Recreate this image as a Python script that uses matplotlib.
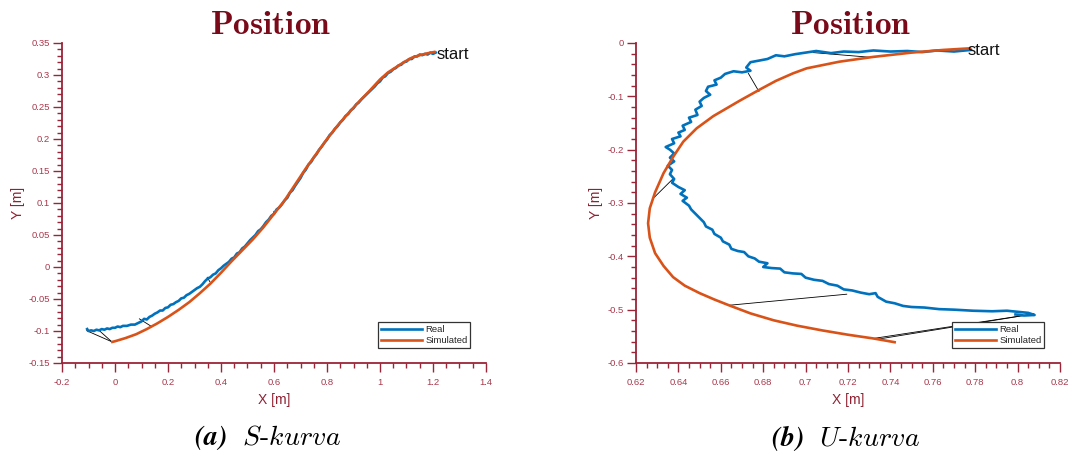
import matplotlib
matplotlib.use("Agg")
import matplotlib.pyplot as plt
from matplotlib.ticker import MultipleLocator

plt.rcParams['mathtext.fontset'] = 'cm'
plt.rcParams['font.family'] = ['Liberation Sans', 'DejaVu Sans']

# ---------------- data: S-kurva ----------------
s_real_x = [-0.105, -0.100, -0.090, -0.080, -0.070, -0.060, -0.050, -0.040, -0.030, -0.020,
            -0.010, 0.000, 0.010, 0.020, 0.030, 0.045, 0.060, 0.075, 0.090, 0.100,
            0.110, 0.120, 0.130, 0.140, 0.150, 0.160, 0.170, 0.180, 0.190, 0.200,
            0.210, 0.220, 0.230, 0.240, 0.250, 0.260, 0.270, 0.280, 0.290, 0.300,
            0.310, 0.320, 0.330, 0.340, 0.350, 0.360, 0.370, 0.380, 0.390, 0.400,
            0.410, 0.420, 0.430, 0.440, 0.450, 0.460, 0.470, 0.480, 0.490, 0.500,
            0.510, 0.520, 0.530, 0.540, 0.550, 0.560, 0.570, 0.580, 0.590, 0.600,
            0.610, 0.620, 0.630, 0.640, 0.650, 0.660, 0.670, 0.680, 0.690, 0.700,
            0.710, 0.720, 0.730, 0.740, 0.750, 0.760, 0.770, 0.780, 0.790, 0.800,
            0.810, 0.820, 0.830, 0.840, 0.850, 0.860, 0.870, 0.880, 0.890, 0.900,
            0.910, 0.920, 0.930, 0.940, 0.950, 0.960, 0.970, 0.980, 0.990, 1.000,
            1.010, 1.020, 1.030, 1.040, 1.050, 1.060, 1.070, 1.080, 1.090, 1.100,
            1.110, 1.120, 1.130, 1.140, 1.150, 1.160, 1.170, 1.180, 1.190, 1.200, 1.210]
s_real_y = [-0.097, -0.100, -0.099, -0.100, -0.098, -0.099, -0.097, -0.098, -0.096, -0.097,
            -0.095, -0.095, -0.093, -0.094, -0.092, -0.092, -0.090, -0.090, -0.087, -0.085,
            -0.081, -0.082, -0.078, -0.076, -0.073, -0.071, -0.068, -0.068, -0.064, -0.063,
            -0.059, -0.058, -0.055, -0.053, -0.049, -0.048, -0.044, -0.042, -0.039, -0.036,
            -0.033, -0.031, -0.027, -0.022, -0.018, -0.016, -0.012, -0.010, -0.005, -0.002,
            0.002, 0.005, 0.008, 0.013, 0.015, 0.021, 0.023, 0.029, 0.032, 0.037,
            0.042, 0.046, 0.050, 0.056, 0.059, 0.064, 0.070, 0.074, 0.080, 0.083,
            0.090, 0.093, 0.098, 0.104, 0.108, 0.116, 0.120, 0.127, 0.133, 0.139,
            0.147, 0.152, 0.160, 0.164, 0.171, 0.176, 0.183, 0.188, 0.194, 0.199,
            0.206, 0.210, 0.216, 0.220, 0.226, 0.230, 0.236, 0.239, 0.245, 0.248,
            0.254, 0.257, 0.262, 0.266, 0.270, 0.274, 0.278, 0.282, 0.287, 0.290,
            0.296, 0.298, 0.303, 0.305, 0.309, 0.311, 0.315, 0.316, 0.320, 0.321,
            0.325, 0.325, 0.329, 0.329, 0.332, 0.331, 0.333, 0.332, 0.335, 0.333, 0.335]

s_sim_x = [1.205, 1.18, 1.15, 1.12, 1.09, 1.06, 1.03, 1.00, 0.96, 0.92, 0.88, 0.84, 0.80,
           0.76, 0.72, 0.68, 0.64, 0.60, 0.56, 0.52, 0.48, 0.44, 0.40, 0.36, 0.32, 0.28,
           0.24, 0.20, 0.16, 0.12, 0.08, 0.04, 0.00, -0.01]
s_sim_y = [0.336, 0.334, 0.331, 0.327, 0.320, 0.312, 0.304, 0.293, 0.275, 0.258, 0.240,
           0.221, 0.200, 0.177, 0.154, 0.129, 0.104, 0.083, 0.062, 0.043, 0.026, 0.009,
           -0.009, -0.026, -0.041, -0.055, -0.067, -0.078, -0.088, -0.097, -0.105, -0.111,
           -0.116, -0.117]

# correspondence segments (real point -> simulated point)
s_link_x0 = [-0.107, -0.063, 0.092, 0.348, 0.600]
s_link_y0 = [-0.0995, -0.098, -0.081, -0.016, 0.087]
s_link_x1 = [-0.0125, -0.0125, 0.138, 0.358, 0.595]
s_link_y1 = [-0.1167, -0.1167, -0.093, -0.023, 0.080]

# ---------------- data: U-kurva ----------------
u_real_x = [0.778, 0.770, 0.762, 0.755, 0.748, 0.740, 0.732, 0.725, 0.718, 0.712,
            0.705, 0.700, 0.695, 0.690, 0.686, 0.682, 0.678, 0.674, 0.672, 0.674,
            0.670, 0.666, 0.662, 0.660, 0.657, 0.658, 0.654, 0.653, 0.655, 0.652,
            0.650, 0.651, 0.648, 0.649, 0.645, 0.646, 0.642, 0.643, 0.640, 0.641,
            0.637, 0.638, 0.634, 0.636, 0.638, 0.636, 0.638, 0.635, 0.637, 0.636,
            0.638, 0.637, 0.640, 0.643, 0.641, 0.644, 0.642, 0.645, 0.646, 0.648,
            0.650, 0.652, 0.653, 0.656, 0.657, 0.660, 0.661, 0.664, 0.665, 0.668,
            0.671, 0.673, 0.676, 0.678, 0.682, 0.680, 0.684, 0.688, 0.690, 0.694,
            0.698, 0.700, 0.704, 0.708, 0.711, 0.715, 0.718, 0.722, 0.726, 0.730,
            0.733, 0.734, 0.738, 0.742, 0.746, 0.750, 0.756, 0.763, 0.770, 0.779,
            0.788, 0.795, 0.800, 0.805, 0.808, 0.803, 0.799]
u_real_y = [-0.013, -0.016, -0.014, -0.017, -0.015, -0.016, -0.014, -0.017, -0.016, -0.019,
            -0.015, -0.018, -0.021, -0.025, -0.023, -0.030, -0.033, -0.036, -0.046, -0.052,
            -0.055, -0.053, -0.058, -0.065, -0.070, -0.078, -0.082, -0.090, -0.097, -0.103,
            -0.110, -0.118, -0.125, -0.135, -0.140, -0.148, -0.155, -0.163, -0.168, -0.175,
            -0.180, -0.188, -0.195, -0.200, -0.207, -0.215, -0.222, -0.230, -0.238, -0.246,
            -0.255, -0.262, -0.270, -0.276, -0.283, -0.290, -0.296, -0.305, -0.312, -0.320,
            -0.328, -0.336, -0.344, -0.350, -0.358, -0.365, -0.372, -0.378, -0.386, -0.390,
            -0.392, -0.400, -0.404, -0.410, -0.413, -0.420, -0.422, -0.423, -0.430, -0.432,
            -0.433, -0.440, -0.444, -0.446, -0.452, -0.455, -0.462, -0.464, -0.468, -0.471,
            -0.469, -0.476, -0.485, -0.488, -0.493, -0.495, -0.496, -0.499, -0.500, -0.502,
            -0.503, -0.502, -0.504, -0.506, -0.510, -0.511, -0.509]

u_sim_x = [0.7775, 0.765, 0.750, 0.732, 0.716, 0.7005, 0.694, 0.686, 0.6785, 0.669,
           0.6565, 0.6486, 0.6423, 0.6376, 0.633, 0.629, 0.6265, 0.6257, 0.6265, 0.629,
           0.633, 0.6375, 0.643, 0.650, 0.657, 0.664, 0.674, 0.685, 0.696, 0.708,
           0.720, 0.732, 0.742]
u_sim_y = [-0.010, -0.013, -0.018, -0.026, -0.035, -0.0475, -0.057, -0.071, -0.087, -0.108,
           -0.137, -0.160, -0.185, -0.213, -0.244, -0.280, -0.310, -0.338, -0.365, -0.394,
           -0.418, -0.439, -0.455, -0.469, -0.481, -0.492, -0.507, -0.520, -0.530, -0.539,
           -0.547, -0.554, -0.561]

u_link_x0 = [0.7036, 0.673, 0.6376, 0.7194, 0.806, 0.801]
u_link_y0 = [-0.018, -0.057, -0.254, -0.471, -0.509, -0.512]
u_link_x1 = [0.7312, 0.678, 0.6282, 0.6643, 0.733, 0.732]
u_link_y1 = [-0.027, -0.091, -0.291, -0.4916, -0.556, -0.554]

s_xticks = [-0.2, 0, 0.2, 0.4, 0.6, 0.8, 1, 1.2, 1.4]
s_xticklabels = ['-0.2', '0', '0.2', '0.4', '0.6', '0.8', '1', '1.2', '1.4']
s_yticks = [-0.15, -0.1, -0.05, 0, 0.05, 0.1, 0.15, 0.2, 0.25, 0.3, 0.35]
s_yticklabels = ['-0.15', '-0.1', '-0.05', '0', '0.05', '0.1', '0.15', '0.2', '0.25', '0.3', '0.35']
u_xticks = [0.62, 0.64, 0.66, 0.68, 0.70, 0.72, 0.74, 0.76, 0.78, 0.80, 0.82]
u_xticklabels = ['0.62', '0.64', '0.66', '0.68', '0.7', '0.72', '0.74', '0.76', '0.78', '0.8', '0.82']
u_yticks = [-0.6, -0.5, -0.4, -0.3, -0.2, -0.1, 0]
u_yticklabels = ['-0.6', '-0.5', '-0.4', '-0.3', '-0.2', '-0.1', '0']

# ---------------- style ----------------
BLUE = '#0072BD'
ORANGE = '#D95319'
AXC = '#9A2438'
TICKC = '#A8394C'
LABC = '#8E2233'
TITC = '#7A0A1A'

fig = plt.figure(figsize=(10.72, 4.59), dpi=100)
W, H = 1072, 459


def make_ax(l, r, b, t):
    return fig.add_axes([l / W, 1 - b / H, (r - l) / W, (b - t) / H])


def style(ax, xlim, ylim, xt, xtl, yt, ytl, xminor, yminor, ylab_x):
    ax.set_xlim(*xlim)
    ax.set_ylim(*ylim)
    for s in ['top', 'right']:
        ax.spines[s].set_visible(False)
    for s in ['left', 'bottom']:
        ax.spines[s].set_color(AXC)
        ax.spines[s].set_linewidth(1.3)
    ax.set_xticks(xt)
    ax.set_xticklabels(xtl)
    ax.set_yticks(yt)
    ax.set_yticklabels(ytl)
    ax.xaxis.set_minor_locator(MultipleLocator(xminor))
    ax.yaxis.set_minor_locator(MultipleLocator(yminor))
    ax.tick_params(which='major', direction='out', length=6.5, width=1.0,
                   color=AXC, labelcolor=TICKC, labelsize=6.8)
    ax.tick_params(which='minor', direction='out', length=3.5, width=1.0, color=AXC)
    ax.tick_params(axis='x', which='major', pad=4)
    ax.tick_params(axis='y', which='major', pad=2)
    ax.set_xlabel('X [m]', color=LABC, fontsize=10)
    ax.set_ylabel('Y [m]', color=LABC, fontsize=10)
    ax.xaxis.set_label_coords(0.5, -0.094)
    ax.yaxis.set_label_coords(ylab_x, 0.5)
    ax.patch.set_alpha(0)


def legend(ax):
    leg = ax.legend(loc='lower left', bbox_to_anchor=(0.745, 0.047), borderaxespad=0,
                    fontsize=6.8, handlelength=4.4, handletextpad=0.3, borderpad=0.3,
                    labelspacing=0.2, fancybox=False, framealpha=1, edgecolor='#333333')
    leg.get_frame().set_linewidth(0.9)
    for t in leg.get_texts():
        t.set_color('#262626')


# ---- left panel ----
ax1 = make_ax(62, 486, 363, 43)
for x0, y0, x1, y1 in zip(s_link_x0, s_link_y0, s_link_x1, s_link_y1):
    ax1.plot([x0, x1], [y0, y1], color='black', lw=0.6)
ax1.plot(s_real_x, s_real_y, color=BLUE, lw=1.9, label='Real')
ax1.plot(s_sim_x, s_sim_y, color=ORANGE, lw=1.9, label='Simulated')
ax1.text(1.213, 0.332, 'start', fontsize=12, va='center', ha='left', color='#111111')
style(ax1, (-0.2, 1.4), (-0.15, 0.35), s_xticks, s_xticklabels, s_yticks, s_yticklabels,
      0.05, 0.01, -0.088)
legend(ax1)

# ---- right panel ----
ax2 = make_ax(636, 1060, 363, 43)
for x0, y0, x1, y1 in zip(u_link_x0, u_link_y0, u_link_x1, u_link_y1):
    ax2.plot([x0, x1], [y0, y1], color='black', lw=0.6)
ax2.plot(u_real_x, u_real_y, color=BLUE, lw=1.9, label='Real')
ax2.plot(u_sim_x, u_sim_y, color=ORANGE, lw=1.9, label='Simulated')
ax2.text(0.7765, -0.014, 'start', fontsize=12, va='center', ha='left', color='#111111')
style(ax2, (0.62, 0.82), (-0.6, 0.0), u_xticks, u_xticklabels, u_yticks, u_yticklabels,
      0.005, 0.02, -0.078)
legend(ax2)

# titles and captions
fig.text(271 / W, 1 - 25 / H, r'$\mathbf{Position}$', ha='center', va='center',
         fontsize=24, color=TITC)
fig.text(851 / W, 1 - 25 / H, r'$\mathbf{Position}$', ha='center', va='center',
         fontsize=24, color=TITC)
fig.text(268 / W, 1 - 438 / H, r'$\mathbfit{(a)}\ \ \mathit{S}\text{-}\mathit{kurva}$',
         ha='center', va='center', fontsize=20, color='black')
fig.text(845 / W, 1 - 438 / H, r'$\mathbfit{(b)}\ \ \mathit{U}\text{-}\mathit{kurva}$',
         ha='center', va='center', fontsize=20, color='black')

fig.savefig('out.png', dpi=100)
